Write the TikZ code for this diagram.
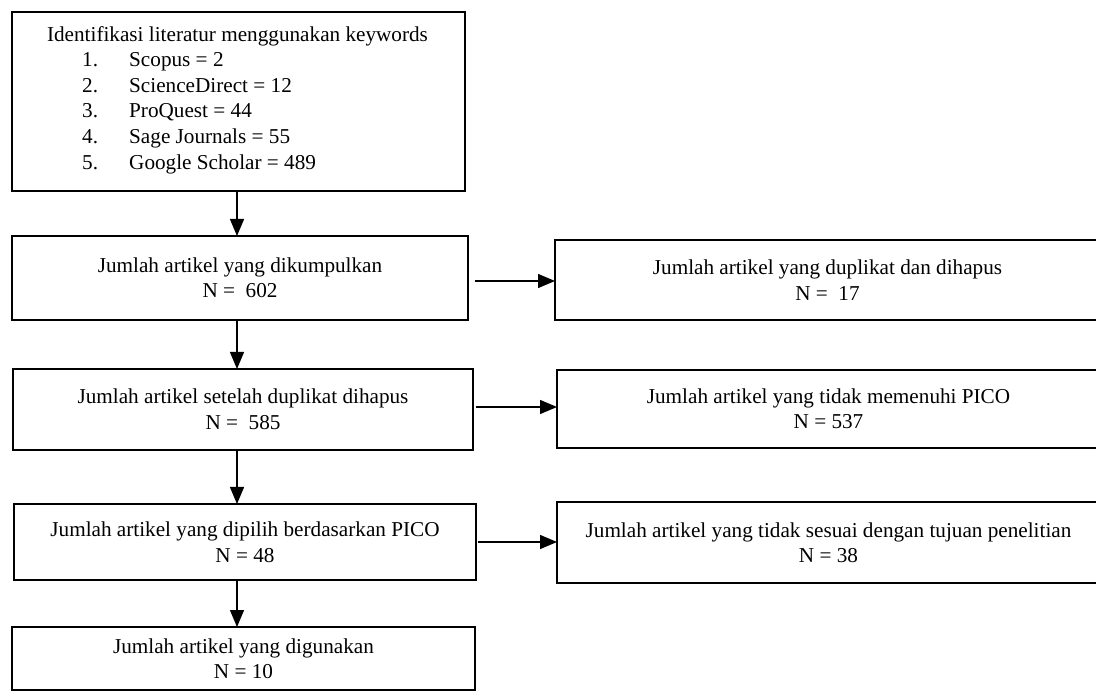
\documentclass[tikz,border=0pt]{standalone}
\usepackage{fontspec}
\setmainfont{Liberation Serif}
\usetikzlibrary{arrows.meta}
\begin{document}
\begin{tikzpicture}[x=1pt,y=-1pt,
  box/.style={draw, line width=2.4pt, inner sep=0pt, outer sep=0pt, align=center,
    font=\fontsize{21.2}{25.5}\selectfont},
  txt/.style={inner sep=0pt, font=\fontsize{21.2}{25.5}\selectfont},
  arr/.style={line width=1.3pt, -{Triangle[length=17pt,width=14pt]}}]
\useasboundingbox (0,0) rectangle (1096,692);
\clip (0,0) rectangle (1096,692);
\fill[white] (0,0) rectangle (1096,692);
% left column
\node[box, minimum width=453pt, minimum height=179pt] (b1) at (238.5,101.5) {};
\node[txt, anchor=base] (t0) at (237.5,42) {Identifikasi literatur menggunakan keywords};
\node[txt, anchor=base west] (n1) at (82,67) {1.};
\node[txt, anchor=base west] (i1) at (129,67) {Scopus = 2};
\node[txt, anchor=base west] (n2) at (82,92.5) {2.};
\node[txt, anchor=base west] (i2) at (129,92.5) {ScienceDirect = 12};
\node[txt, anchor=base west] (n3) at (82,118) {3.};
\node[txt, anchor=base west] (i3) at (129,118) {ProQuest = 44};
\node[txt, anchor=base west] (n4) at (82,144) {4.};
\node[txt, anchor=base west] (i4) at (129,144) {Sage Journals = 55};
\node[txt, anchor=base west] (n5) at (82,170) {5.};
\node[txt, anchor=base west] (i5) at (129,170) {Google Scholar = 489};

\node[box, minimum width=456.5pt, minimum height=84pt] (b2) at (240,278)
  {Jumlah artikel yang dikumpulkan\\N =\ \ 602};
\node[box, minimum width=460pt, minimum height=81pt] (b3) at (243,409.5)
  {Jumlah artikel setelah duplikat dihapus\\N =\ \ 585};
\node[box, minimum width=462.5pt, minimum height=76pt] (b4) at (245,542)
  {Jumlah artikel yang dipilih berdasarkan PICO\\N = 48};
\node[box, minimum width=463pt, minimum height=63pt] (b5) at (243.5,658.5)
  {Jumlah artikel yang digunakan\\N = 10};

% right column
\node[box, minimum width=545pt, minimum height=80pt] (r1) at (827.5,280)
  {Jumlah artikel yang duplikat dan dihapus\\N =\ \ 17};
\node[box, minimum width=543pt, minimum height=78pt] (r2) at (828.5,409)
  {Jumlah artikel yang tidak memenuhi PICO\\N = 537};
\node[box, minimum width=543pt, minimum height=81pt] (r3) at (828.5,542.5)
  {Jumlah artikel yang tidak sesuai dengan tujuan penelitian\\N = 38};

% connectors
\coordinate (axis) at (237,0);
\draw[arr] (b1.south -| axis) -- (b2.north -| axis);
\draw[arr] (b2.south -| axis) -- (b3.north -| axis);
\draw[arr] (b3.south -| axis) -- (b4.north -| axis);
\draw[arr] (b4.south -| axis) -- (b5.north -| axis);

\coordinate (s1) at (475,281);
\coordinate (s2) at (476,407);
\coordinate (s3) at (478,542);
\draw[arr] (s1) -- (r1.west |- s1);
\draw[arr] (s2) -- (r2.west |- s2);
\draw[arr] (s3) -- (r3.west |- s3);
\end{tikzpicture}
\end{document}
